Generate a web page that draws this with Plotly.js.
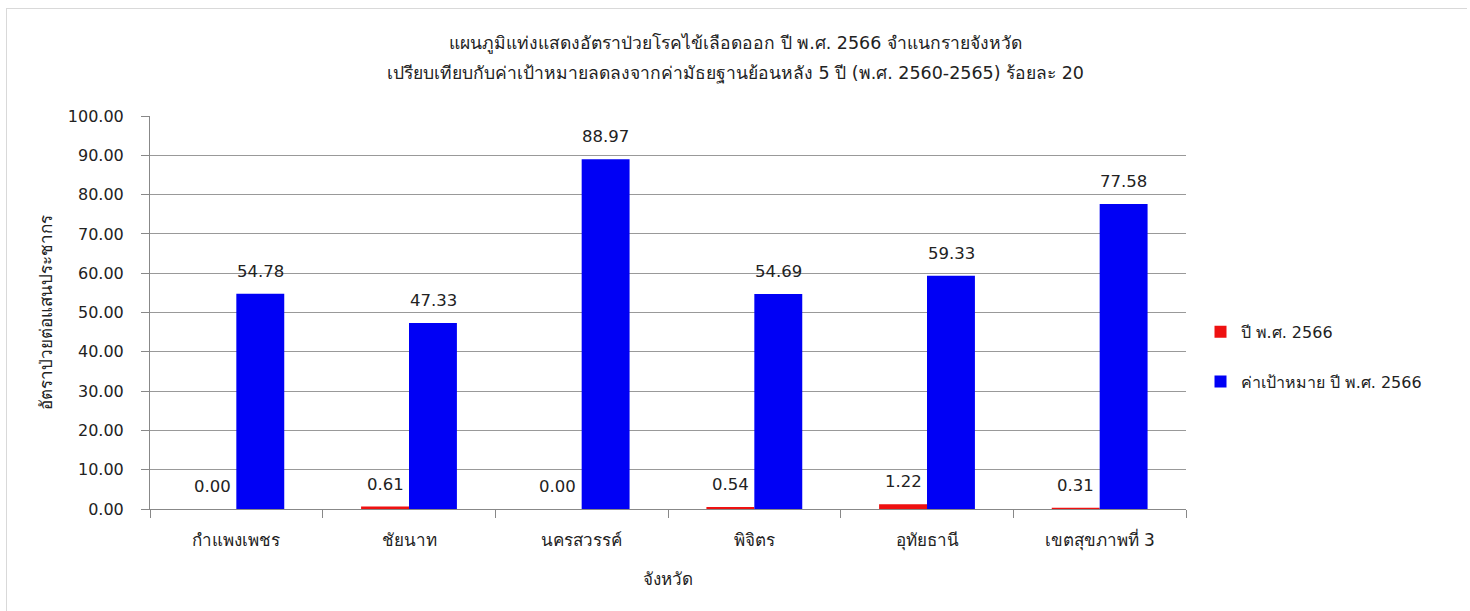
<!DOCTYPE html>
<html>
<head>
<meta charset="utf-8">
<script src="https://cdn.plot.ly/plotly-3.0.1.min.js"></script>
<style>
html,body{margin:0;padding:0;background:#fff;}
#frame{position:absolute;left:6px;top:8px;width:1460px;height:610px;border-top:1px solid #d9d9d9;border-left:1px solid #d9d9d9;}
#chart{position:absolute;left:0;top:0;width:1470px;height:611px;}
</style>
</head>
<body>
<div id="frame"></div>
<div id="chart"></div>
<script>
const categories = ["กำแพงเพชร", "ชัยนาท", "นครสวรรค์", "พิจิตร", "อุทัยธานี", "เขตสุขภาพที่ 3"];
const actual2566 = [0.00, 0.61, 0.00, 0.54, 1.22, 0.31];
const target2566 = [54.78, 47.33, 88.97, 54.69, 59.33, 77.58];
const yTicks = [0, 10, 20, 30, 40, 50, 60, 70, 80, 90, 100];
const seriesNames = ["ปี พ.ศ. 2566", "ค่าเป้าหมาย ปี พ.ศ. 2566"];
const titleLines = [
  "แผนภูมิแท่งแสดงอัตราป่วยโรคไข้เลือดออก ปี พ.ศ. 2566 จำแนกรายจังหวัด",
  "เปรียบเทียบกับค่าเป้าหมายลดลงจากค่ามัธยฐานย้อนหลัง 5 ปี (พ.ศ. 2560-2565) ร้อยละ 20"
];

const FONT = "Tahoma, 'DejaVu Sans', 'Noto Sans', sans-serif";
const TXT = "#222";
const BAR_HALF = 24; // px offset of each grouped bar centre

const traces = [
  {type: "bar", name: seriesNames[0], x: categories, y: actual2566,
   marker: {color: "#ee1111"}, legendgroup: "a"},
  {type: "bar", name: seriesNames[1], x: categories, y: target2566,
   marker: {color: "#0000f5"}, legendgroup: "b"}
];

const annotations = [];
[actual2566, target2566].forEach((series, si) => {
  series.forEach((v, i) => {
    annotations.push({
      x: categories[i], y: v, xref: "x", yref: "y",
      text: v.toFixed(2), showarrow: false,
      xanchor: "center", yanchor: "bottom",
      xshift: si === 0 ? -BAR_HALF : BAR_HALF, yshift: 11,
      font: {family: FONT, size: 16.5, color: TXT}
    });
  });
});
titleLines.forEach((t, i) => {
  annotations.push({
    text: t, showarrow: false, xref: "paper", yref: "paper",
    x: 0.5 + (735 - 667) / 1038, y: 1 + (i === 0 ? 72 : 43) / 393,
    xanchor: "center", yanchor: "middle",
    font: {family: FONT, size: 17.5, color: TXT}
  });
});

const layout = {
  width: 1470, height: 611,
  paper_bgcolor: "rgba(0,0,0,0)", plot_bgcolor: "rgba(0,0,0,0)",
  font: {family: FONT, size: 16, color: TXT},
  margin: {l: 150, r: 284, t: 116, b: 102},
  barmode: "group", bargap: 0.445, bargroupgap: 0,
  annotations: annotations,
  xaxis: {
    type: "category", tickson: "boundaries", ticks: "outside", ticklen: 8,
    tickcolor: "#888", showline: true, linecolor: "#888", linewidth: 1,
    tickfont: {size: 17}, showgrid: false, ticklabelstandoff: 16,
    title: {text: "จังหวัด", font: {size: 17}, standoff: 22}
  },
  yaxis: {
    range: [0, 100], tickvals: yTicks, ticktext: yTicks.map(v => v.toFixed(2)),
    ticks: "outside", ticklen: 8, tickcolor: "#888",
    showline: true, linecolor: "#888", linewidth: 1,
    gridcolor: "#999", gridwidth: 1, zeroline: false,
    tickfont: {size: 16}, ticklabelstandoff: 14,
    title: {text: "อัตราป่วยต่อแสนประชากร", font: {size: 17}, standoff: 10}
  },
  legend: {
    x: 1.014, xanchor: "left", y: 0.387, yanchor: "middle",
    font: {size: 16}, traceorder: "grouped", tracegroupgap: 26, itemwidth: 30
  },
  showlegend: true
};

Plotly.newPlot("chart", traces, layout, {displayModeBar: false, staticPlot: true});
</script>
</body>
</html>
